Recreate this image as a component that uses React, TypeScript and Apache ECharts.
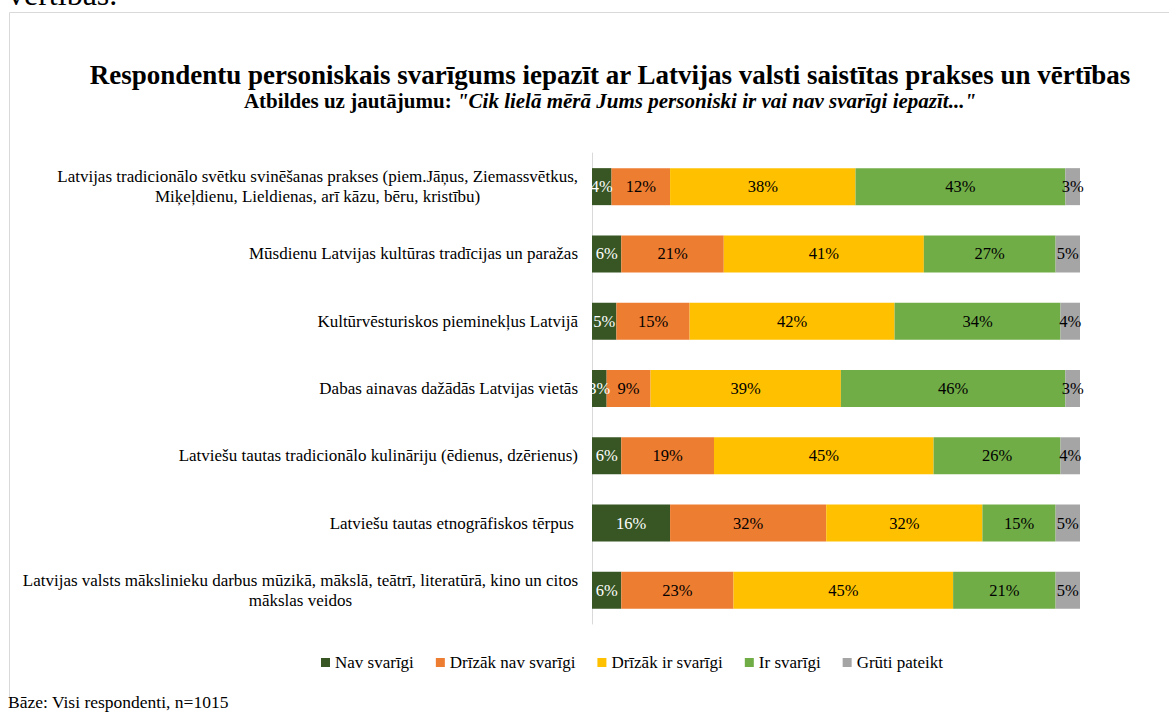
import React, { useEffect, useRef } from "react";
import * as echarts from "echarts";

const categories = [
  "Latvijas tradicionālo svētku svinēšanas prakses (piem.Jāņus, Ziemassvētkus,\nMiķeļdienu, Lieldienas, arī kāzu, bēru, kristību)",
  "Mūsdienu Latvijas kultūras tradīcijas un paražas",
  "Kultūrvēsturiskos pieminekļus Latvijā",
  "Dabas ainavas dažādās Latvijas vietās",
  "Latviešu tautas tradicionālo kulināriju (ēdienus, dzērienus)",
  "Latviešu tautas etnogrāfiskos tērpus ",
  "Latvijas valsts mākslinieku darbus mūzikā, mākslā, teātrī, literatūrā, kino un citos\nmākslas veidos",
];

const seriesNames = ["Nav svarīgi", "Drīzāk nav svarīgi", "Drīzāk ir svarīgi", "Ir svarīgi", "Grūti pateikt"];
const navSvarigi = [4, 6, 5, 3, 6, 16, 6];
const drizakNavSvarigi = [12, 21, 15, 9, 19, 32, 23];
const drizakIrSvarigi = [38, 41, 42, 39, 45, 32, 45];
const irSvarigi = [43, 27, 34, 46, 26, 15, 21];
const grutiPateikt = [3, 5, 4, 3, 4, 5, 5];

const colors = ["#375623", "#ED7D31", "#FFC000", "#70AD47", "#A5A5A5"];
const labelColors = ["#ffffff", "#000000", "#000000", "#000000", "#000000"];

const titleText = "Respondentu personiskais svarīgums iepazīt ar Latvijas valsti saistītas prakses un vērtības";
const subtitleLead = "Atbildes uz jautājumu: ";
const subtitleQuote = "\"Cik lielā mērā Jums personiski ir vai nav svarīgi iepazīt...\"";
const baseNote = "Bāze: Visi respondenti, n=1015";
const aboveText = "vērtības.";

const FONT = "Liberation Serif, Times New Roman, serif";

export default function App() {
  const ref = useRef<HTMLDivElement>(null);
  useEffect(() => {
    if (!ref.current) return;
    const chart = echarts.init(ref.current, undefined, { renderer: "svg" });
    const dataSets = [navSvarigi, drizakNavSvarigi, drizakIrSvarigi, irSvarigi, grutiPateikt];
    chart.setOption({
      animation: false,
      backgroundColor: "#ffffff",
      textStyle: { fontFamily: FONT },
      grid: { left: 592, right: 89, top: 153, bottom: 88, containLabel: false },
      xAxis: {
        type: "value",
        min: 0,
        max: 100,
        show: false,
      },
      yAxis: {
        type: "category",
        inverse: true,
        data: categories,
        axisLine: { show: true, lineStyle: { color: "#d9d9d9", width: 1 } },
        axisTick: { show: false },
        axisLabel: {
          margin: 14,
          align: "right",
          formatter: (v: string) =>
            v
              .split("\n")
              .map((l) => `{c|${l}}`)
              .join("\n"),
          rich: {
            c: {
              align: "center",
              fontSize: 17,
              lineHeight: 20,
              fontFamily: FONT,
              color: "#000000",
            },
          },
        },
      },
      legend: {
        top: 649,
        left: 316,
        icon: "rect",
        itemWidth: 9,
        itemHeight: 9,
        itemGap: 22,
        textStyle: { fontSize: 17, fontFamily: FONT, color: "#000000" },
        data: seriesNames,
      },
      series: dataSets.map((d, i) => ({
        name: seriesNames[i],
        type: "bar",
        stack: "total",
        barWidth: 37,
        data: d,
        itemStyle: { color: colors[i] },
        label: {
          show: true,
          position: "inside",
          formatter: "{c}%",
          fontSize: 16.5,
          fontFamily: FONT,
          color: labelColors[i],
        },
      })),
      graphic: [
        {
          type: "text",
          x: 8,
          y: -6,
          style: {
            text: aboveText,
            font: `32px ${FONT}`,
            fill: "#000000",
            verticalAlign: "middle",
          },
        },
        {
          type: "line",
          shape: { x1: 9.5, y1: 12.5, x2: 1169, y2: 12.5 },
          style: { stroke: "#d9d9d9", lineWidth: 1 },
        },
        {
          type: "line",
          shape: { x1: 9.5, y1: 12.5, x2: 9.5, y2: 697 },
          style: { stroke: "#d9d9d9", lineWidth: 1 },
        },
        {
          type: "text",
          x: 610,
          y: 75,
          style: {
            text: titleText,
            font: `bold 27px ${FONT}`,
            fill: "#000000",
            align: "center",
            verticalAlign: "middle",
          },
        },
        {
          type: "text",
          x: 610,
          y: 101,
          style: {
            text: `{a|${subtitleLead}}{b|${subtitleQuote}}`,
            align: "center",
            verticalAlign: "middle",
            rich: {
              a: { fontFamily: FONT, fontSize: 21, fontWeight: "bold", fill: "#000000", color: "#000000" },
              b: {
                fontFamily: FONT,
                fontSize: 21,
                fontWeight: "bold",
                fontStyle: "italic",
                fill: "#000000",
                color: "#000000",
              },
            },
          },
        },
        {
          type: "text",
          x: 8,
          y: 702,
          style: {
            text: baseNote,
            font: `17.5px ${FONT}`,
            fill: "#000000",
            verticalAlign: "middle",
          },
        },
      ],
    });
    return () => chart.dispose();
  }, []);
  return (
    <div
      ref={ref}
      style={{ position: "absolute", left: 0, top: 0, width: 1169, height: 712 }}
    />
  );
}
